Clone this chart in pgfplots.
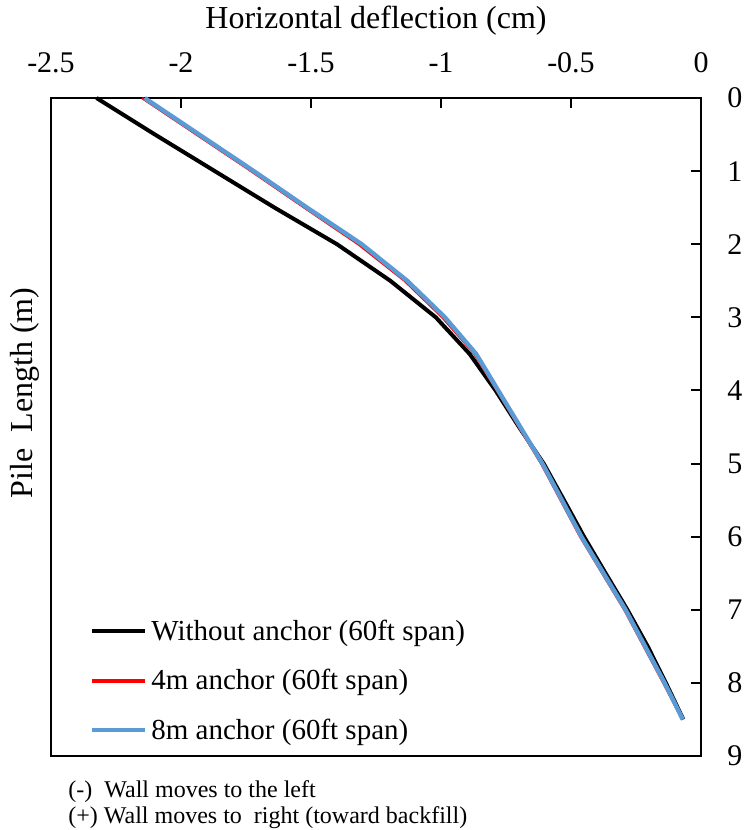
\documentclass[border=0pt]{standalone}
\usepackage{fontspec}
\setmainfont{Liberation Serif}
\usepackage{pgfplots}
\pgfplotsset{compat=1.18}
\definecolor{exblue}{HTML}{5B9BD5}
\definecolor{exred}{HTML}{FF0000}

\pgfplotstableread{
depth noanchor anchorfour anchoreight
0    -2.325 -2.150 -2.140
0.5  -2.100 -1.940 -1.930
1    -1.870 -1.730 -1.720
1.5  -1.640 -1.525 -1.515
2    -1.400 -1.318 -1.305
2.5  -1.195 -1.140 -1.130
3    -1.020 -0.995 -0.985
3.5  -0.890 -0.872 -0.865
4    -0.790 -0.785 -0.780
4.5  -0.700 -0.700 -0.695
5    -0.605 -0.615 -0.610
5.5  -0.527 -0.540 -0.535
6    -0.450 -0.465 -0.460
6.5  -0.367 -0.380 -0.375
7    -0.283 -0.295 -0.290
7.5  -0.205 -0.220 -0.215
8    -0.135 -0.145 -0.140
8.5  -0.068 -0.072 -0.070
}\deflection

\begin{document}
\begin{tikzpicture}
\begin{axis}[
  name=ax,
  scale only axis, width=325pt, height=329pt,
  xmin=-2.5, xmax=0, ymin=0, ymax=9, y dir=reverse,
  xtick={-2.5,-2,-1.5,-1,-0.5,0}, ytick={0,1,...,9},
  xtick pos=upper, xticklabel pos=upper,
  ytick pos=right, yticklabel pos=right,
  tick align=inside, major tick length=5pt,
  axis line style={line width=1pt},
  every tick/.style={black, line width=1pt},
  /pgf/number format/assume math mode=true,
  xticklabel style={font=\fontsize{15}{18}\selectfont, anchor=base, inner sep=0pt, yshift=13pt},
  yticklabel style={font=\fontsize{15}{18}\selectfont, anchor=west, inner sep=0pt, xshift=13pt},
  legend cell align=left,
  legend image code/.code={\draw[#1] (0pt,0pt) -- (26.5pt,0pt);},
  legend style={at={(0,0)}, anchor=south west, xshift=19.5pt, yshift=7pt,
    draw=none, fill=none, inner sep=0pt, outer sep=0pt,
    font=\fontsize{14.5}{17}\selectfont, row sep=13pt,
    nodes={inner sep=0pt},
    /tikz/every odd column/.append style={column sep=2pt}},
  clip=false,
]
\addplot[black, line width=2pt] table[x=noanchor, y=depth] {\deflection};
\addlegendentry{Without anchor (60ft span)}
\addplot[exred, line width=1.2pt, forget plot] table[x=anchorfour, y=depth] {\deflection};
\addlegendimage{exred, line width=1.9pt}
\addlegendentry{4m anchor (60ft span)}
\addplot[exblue, line width=2.2pt] table[x=anchoreight, y=depth] {\deflection};
\addlegendentry{8m anchor (60ft span)}
\end{axis}
\node[anchor=base, inner sep=0pt, font=\fontsize{16}{19}\selectfont] at ([yshift=34.5pt]ax.north) {Horizontal deflection (cm)};
\node[rotate=90, inner sep=0pt, font=\fontsize{16}{19}\selectfont] at ([xshift=-13pt,yshift=17pt]ax.west) {Pile\ \ Length (m)};
\node[anchor=base west, inner sep=0pt, font=\fontsize{12}{14}\selectfont] at ([xshift=8.5pt,yshift=-20.5pt]ax.south west) {(-)\ \ Wall moves to the left};
\node[anchor=base west, inner sep=0pt, font=\fontsize{12}{14}\selectfont] at ([xshift=8.5pt,yshift=-34pt]ax.south west) {(+) Wall moves to\ \ right (toward backfill)};
\pgfresetboundingbox
\path[use as bounding box] ([shift={(-25.5pt,-37pt)}]ax.south west) rectangle ([shift={(24.5pt,49pt)}]ax.north east);
\end{tikzpicture}
\end{document}
